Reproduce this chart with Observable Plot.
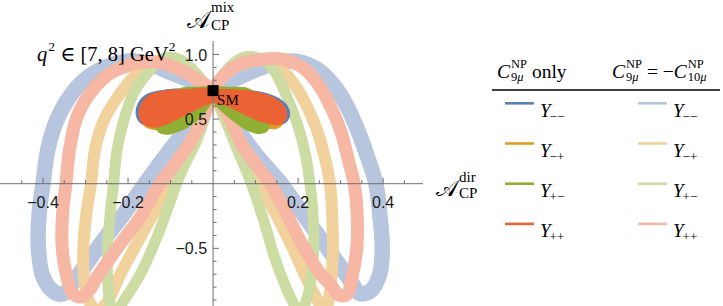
<!DOCTYPE html>
<html>
<head>
<meta charset="utf-8">
<script src="https://cdn.jsdelivr.net/npm/d3@7"></script>
<script src="https://cdn.jsdelivr.net/npm/@observablehq/plot@0.6"></script>
<style>
html,body{margin:0;padding:0;background:#fff;}
#wrap{position:relative;width:723px;height:306px;overflow:hidden;background:#fff;}
#chart{position:absolute;left:0;top:0;}
#overlay{position:absolute;left:0;top:0;pointer-events:none;font-family:"Liberation Serif","Times New Roman",Tinos,"DejaVu Serif",serif;}
#overlay text{white-space:pre;}
</style>
</head>
<body>
<div id="wrap"><div id="chart"></div><svg id="overlay" width="723" height="306"></svg></div>
<script>
// ---------- data ----------
const smPoint = [[0, 0.72]];
const seriesSubscripts = ["−−", "−+", "+−", "++"];
const xTickLabels = [-0.4, -0.2, 0.2, 0.4];
const yTickLabels = [-0.5, 0.5, 1.0];
const xMinorTicks = [-0.45, -0.35, -0.3, -0.25, -0.15, -0.1, -0.05, 0.05, 0.1, 0.15, 0.25, 0.3, 0.35, 0.45];
const yMinorTicks = [-0.9, -0.8, -0.7, -0.6, -0.4, -0.3, -0.2, -0.1, 0.1, 0.2, 0.3, 0.4, 0.6, 0.7, 0.8, 0.9];

// C9 = -C10 (light bands), each lobe runs from SM round the loop back to SM
const lightBlueLeft = [[0,0.72],[-0.04,0.78],[-0.1,0.86],[-0.15,0.925],[-0.195,0.95],[-0.25,0.905],[-0.304,0.8],[-0.343,0.646],[-0.371,0.465],[-0.389,0.258],[-0.4,0],[-0.409,-0.233],[-0.411,-0.49],[-0.4,-0.72],[-0.375,-0.835],[-0.35,-0.85],[-0.328,-0.76],[-0.27,-0.49],[-0.21,-0.233],[-0.16,0],[-0.108,0.233],[-0.065,0.413],[-0.032,0.55],[0,0.72]];
const lightBlueRight = [[0,0.72],[0.04,0.79],[0.1,0.88],[0.15,0.935],[0.2,0.945],[0.245,0.885],[0.284,0.76],[0.315,0.6],[0.342,0.4],[0.365,0.19],[0.383,0],[0.392,-0.23],[0.398,-0.49],[0.392,-0.7],[0.37,-0.83],[0.345,-0.85],[0.325,-0.76],[0.28,-0.55],[0.23,-0.32],[0.16,0],[0.1,0.23],[0.056,0.43],[0.025,0.59],[0,0.72]];
const lightOrangeLeft = [[0,0.72],[-0.03,0.8],[-0.07,0.885],[-0.11,0.93],[-0.145,0.925],[-0.179,0.853],[-0.218,0.7],[-0.257,0.49],[-0.278,0.258],[-0.287,0],[-0.298,-0.233],[-0.305,-0.49],[-0.303,-0.75],[-0.29,-0.92],[-0.272,-0.985],[-0.25,-0.92],[-0.218,-0.7],[-0.171,-0.414],[-0.132,-0.18],[-0.108,0],[-0.085,0.103],[-0.046,0.31],[-0.02,0.53],[0,0.72]];
const lightOrangeRight = [[0,0.72],[0.02,0.82],[0.05,0.9],[0.09,0.945],[0.12,0.955],[0.155,0.9],[0.195,0.75],[0.222,0.59],[0.245,0.41],[0.263,0.2],[0.275,0],[0.28,-0.23],[0.282,-0.49],[0.278,-0.75],[0.27,-0.93],[0.26,-1.0],[0.25,-0.93],[0.222,-0.75],[0.186,-0.49],[0.147,-0.23],[0.108,0],[0.064,0.26],[0.033,0.47],[0,0.72]];
const lightGreenLeft = [[0,0.72],[-0.025,0.8],[-0.05,0.89],[-0.075,0.955],[-0.1,0.98],[-0.124,0.956],[-0.155,0.853],[-0.187,0.7],[-0.21,0.49],[-0.226,0.258],[-0.234,0],[-0.242,-0.233],[-0.248,-0.49],[-0.248,-0.75],[-0.242,-0.93],[-0.23,-1.0],[-0.215,-0.93],[-0.171,-0.7],[-0.132,-0.414],[-0.1,-0.13],[-0.086,0],[-0.069,0.129],[-0.038,0.336],[-0.015,0.56],[0,0.72]];
const lightGreenRight = [[0,0.72],[0.025,0.85],[0.055,0.95],[0.088,0.985],[0.12,0.95],[0.143,0.878],[0.174,0.67],[0.198,0.465],[0.217,0.233],[0.228,0],[0.235,-0.233],[0.237,-0.49],[0.23,-0.75],[0.218,-0.92],[0.205,-1.0],[0.19,-0.93],[0.15,-0.62],[0.119,-0.284],[0.09,0],[0.048,0.336],[0.017,0.594],[0,0.72]];
const lightRedLeft = [[0,0.72],[-0.03,0.79],[-0.077,0.88],[-0.12,0.935],[-0.148,0.945],[-0.19,0.925],[-0.242,0.853],[-0.289,0.7],[-0.32,0.516],[-0.338,0.258],[-0.346,0],[-0.354,-0.233],[-0.355,-0.49],[-0.344,-0.72],[-0.33,-0.85],[-0.31,-0.875],[-0.29,-0.82],[-0.273,-0.724],[-0.218,-0.465],[-0.171,-0.258],[-0.125,0],[-0.095,0.13],[-0.061,0.284],[-0.03,0.465],[0,0.72]];
const lightRedRight = [[0,0.72],[0.02,0.82],[0.06,0.92],[0.11,0.96],[0.165,0.962],[0.21,0.9],[0.245,0.78],[0.276,0.6],[0.3,0.41],[0.32,0.16],[0.332,0],[0.339,-0.24],[0.338,-0.5],[0.327,-0.72],[0.314,-0.86],[0.295,-0.86],[0.276,-0.78],[0.253,-0.7],[0.213,-0.49],[0.174,-0.24],[0.135,0],[0.1,0.15],[0.07,0.29],[0.035,0.53],[0,0.72]];

// C9 only (dark petals), closed outlines
const darkBlueLeft = [[0,0.725],[-0.06,0.73],[-0.11,0.722],[-0.153,0.69],[-0.174,0.625],[-0.18,0.55],[-0.172,0.48],[-0.155,0.45],[-0.124,0.45],[-0.09,0.49],[-0.05,0.555],[-0.02,0.61],[0,0.64]];
const darkBlueRight = [[0,0.725],[0.02,0.727],[0.09,0.716],[0.148,0.665],[0.173,0.6],[0.179,0.535],[0.17,0.478],[0.15,0.458],[0.119,0.478],[0.072,0.543],[0.033,0.607],[0,0.64]];
const darkOrangeLeft = [[0,0.72],[-0.06,0.72],[-0.11,0.705],[-0.15,0.66],[-0.168,0.58],[-0.168,0.5],[-0.158,0.445],[-0.14,0.425],[-0.115,0.43],[-0.08,0.47],[-0.04,0.54],[-0.015,0.6],[0,0.64]];
const darkOrangeRight = [[0,0.72],[0.06,0.715],[0.12,0.68],[0.155,0.62],[0.168,0.54],[0.163,0.465],[0.15,0.432],[0.128,0.432],[0.1,0.46],[0.06,0.52],[0.025,0.59],[0,0.64]];
const darkGreenLeft = [[0,0.735],[-0.04,0.742],[-0.075,0.735],[-0.105,0.68],[-0.125,0.58],[-0.135,0.47],[-0.128,0.405],[-0.108,0.386],[-0.085,0.405],[-0.061,0.44],[-0.03,0.516],[-0.01,0.6],[0,0.65]];
const darkGreenRight = [[0,0.735],[0.04,0.742],[0.08,0.735],[0.105,0.68],[0.122,0.58],[0.131,0.47],[0.126,0.41],[0.111,0.392],[0.09,0.405],[0.072,0.434],[0.033,0.53],[0.01,0.6],[0,0.65]];
const darkRedLeft = [[0,0.725],[-0.06,0.725],[-0.108,0.717],[-0.148,0.684],[-0.167,0.62],[-0.173,0.543],[-0.167,0.478],[-0.152,0.447],[-0.124,0.447],[-0.093,0.49],[-0.053,0.555],[-0.022,0.607],[0,0.64]];
const darkRedRight = [[0,0.725],[0.017,0.725],[0.088,0.712],[0.143,0.66],[0.166,0.594],[0.172,0.53],[0.166,0.478],[0.15,0.46],[0.119,0.478],[0.072,0.543],[0.033,0.607],[0,0.64]];

// ---------- styles ----------
const darkColors = {blue: "#5e81b5", orange: "#e19c24", green: "#8fb032", red: "#eb6235"};
const lightColors = {blue: "#b7c6de", orange: "#f1d29d", green: "#ccdca3", red: "#f6b8a4"};
const axisColor = "#6f6f6f";
const serifFont = "Liberation Serif, Times New Roman, Tinos, DejaVu Serif, serif";
const sansFont = "Liberation Sans, Arial, Helvetica, Arimo, sans-serif";
const fmt = d => (d < 0 ? "−" : "") + Math.abs(d).toFixed(1);

const lightSets = [
  {key: "blue", lobes: [lightBlueLeft, lightBlueRight], w: 15.5},
  {key: "orange", lobes: [lightOrangeLeft, lightOrangeRight], w: 12},
  {key: "green", lobes: [lightGreenLeft, lightGreenRight], w: 11},
  {key: "red", lobes: [lightRedLeft, lightRedRight], w: 13}
];
const darkSets = [
  {key: "blue", lobes: [darkBlueLeft, darkBlueRight]},
  {key: "orange", lobes: [darkOrangeLeft, darkOrangeRight]},
  {key: "green", lobes: [darkGreenLeft, darkGreenRight]},
  {key: "red", lobes: [darkRedLeft, darkRedRight]}
];

const tickUp = len => ({draw(ctx) { ctx.moveTo(0, 0); ctx.lineTo(0, -len); }});
const tickRight = len => ({draw(ctx) { ctx.moveTo(0, 0); ctx.lineTo(len, 0); }});

const marks = [];
for (const s of lightSets) for (const l of s.lobes)
  marks.push(Plot.line(l, {x: d => d[0], y: d => d[1], stroke: lightColors[s.key], strokeWidth: s.w,
    curve: "catmull-rom", strokeLinecap: "round", strokeLinejoin: "round", clip: true}));
for (const s of darkSets) for (const l of s.lobes)
  marks.push(Plot.line(l, {x: d => d[0], y: d => d[1], fill: darkColors[s.key], stroke: darkColors[s.key],
    strokeWidth: 2, curve: "catmull-rom-closed", strokeLinejoin: "round"}));
marks.push(
  Plot.ruleY([0], {stroke: axisColor, strokeWidth: 1}),
  Plot.ruleX([0], {stroke: axisColor, strokeWidth: 1}),
  Plot.dot(xMinorTicks, {x: d => d, y: 0, symbol: tickUp(3.5), stroke: axisColor, fill: "none", strokeWidth: 1}),
  Plot.dot(xTickLabels, {x: d => d, y: 0, symbol: tickUp(6), stroke: axisColor, fill: "none", strokeWidth: 1}),
  Plot.dot(yMinorTicks, {x: 0, y: d => d, symbol: tickRight(3.5), stroke: axisColor, fill: "none", strokeWidth: 1}),
  Plot.dot(yTickLabels, {x: 0, y: d => d, symbol: tickRight(6), stroke: axisColor, fill: "none", strokeWidth: 1}),
  Plot.text(xTickLabels, {x: d => d, y: 0, text: fmt, dy: 19, fontSize: 16, fontFamily: sansFont, fill: "#1a1a1a"}),
  Plot.text(yTickLabels, {x: 0, y: d => d, text: fmt, dx: -6, dy: 1, textAnchor: "end", fontSize: 16, fontFamily: sansFont, fill: "#1a1a1a"}),
  Plot.dot(smPoint, {x: d => d[0], y: d => d[1], symbol: "square", r: 6.2, fill: "#000", stroke: "none"}),
  Plot.text(smPoint, {x: d => d[0], y: d => d[1], text: () => "SM", dx: 4, dy: 9.5, textAnchor: "start", fontSize: 15, fontFamily: serifFont, fill: "#000"})
);

const chart = Plot.plot({
  width: 480, height: 306,
  marginLeft: 0, marginRight: 57, marginTop: 41, marginBottom: 0,
  x: {domain: [-0.5, 0.495], axis: null},
  y: {domain: [-0.95, 1.1], axis: null},
  style: {background: "transparent", overflow: "visible"},
  marks
});
document.getElementById("chart").appendChild(chart);

// ---------- overlay text: axis titles, annotation, legend ----------
// each expression is ONE <text>; pieces are tspans placed side by side (sup/sub stacked)
const ov = d3.select("#overlay");
function mathText(x, y, items) {
  const t = ov.append("text").attr("fill", "#000");
  let cx = x;
  const piece = (px, py, size, parts) => {
    let w = 0;
    parts.forEach(([s, it]) => {
      const ts = t.append("tspan").attr("x", px + w).attr("y", py).attr("font-size", size)
        .attr("font-style", it ? "italic" : "normal").text(s);
      w += ts.node().getComputedTextLength();
    });
    return w;
  };
  for (const it of items) {
    if (it.sup) {
      const w1 = piece(cx, y + it.supDy, it.size, it.sup);
      const w2 = piece(cx, y + it.subDy, it.size, it.sub);
      cx += Math.max(w1, w2) + (it.gap || 0);
    } else {
      cx += piece(cx, y + (it.dy || 0), it.size, it.parts) + (it.gap || 0);
    }
  }
  return cx;
}
// y-axis title
mathText(187, 28.3, [{size: 24, parts: [["𝒜"]], gap: 1}, {size: 15, sup: [["mix"]], sub: [["CP"]], supDy: -16.5, subDy: 1.5}]);
// x-axis title
mathText(436, 196, [{size: 23, parts: [["𝒜"]], gap: 1}, {size: 15, sup: [["dir"]], sub: [["CP"]], supDy: -14.5, subDy: 2}]);
// q^2 annotation
mathText(37, 60.7, [{size: 20.5, parts: [["q", true]], gap: 1}, {size: 13.5, parts: [["2"]], dy: -9.5}, {size: 20.5, parts: [[" ∈ [7, 8] GeV"]]}, {size: 13.5, parts: [["2"]], dy: -9.5}]);

// legend headers
const C = {size: 19.5, parts: [["C", true]], gap: 1};
mathText(497, 78.3, [C, {size: 12.5, sup: [["NP"]], sub: [["9"], ["μ", true]], supDy: -10, subDy: 2.5}, {size: 19.5, parts: [[" only"]]}]);
mathText(612, 78.3, [C, {size: 12.5, sup: [["NP"]], sub: [["9"], ["μ", true]], supDy: -10, subDy: 2.5}, {size: 19.5, parts: [[" = −"]]},
  C, {size: 12.5, sup: [["NP"]], sub: [["10"], ["μ", true]], supDy: -10, subDy: 2.5}]);
ov.append("line").attr("x1", 492).attr("x2", 720).attr("y1", 90).attr("y2", 90).attr("stroke", "#000").attr("stroke-width", 1.3);

const keys = ["blue", "orange", "green", "red"];
keys.forEach((k, i) => {
  const y0 = 103.3 + 40.2 * i;
  ov.append("line").attr("x1", 505).attr("x2", 534).attr("y1", y0).attr("y2", y0).attr("stroke", darkColors[k]).attr("stroke-width", 2.6);
  ov.append("line").attr("x1", 638).attr("x2", 667).attr("y1", y0).attr("y2", y0).attr("stroke", lightColors[k]).attr("stroke-width", 2.6);
  mathText(540, y0 + 13.4, [{size: 19, parts: [["Y", true]], gap: -1}, {size: 13, parts: [[seriesSubscripts[i]]], dy: 4}]);
  mathText(673, y0 + 13.4, [{size: 19, parts: [["Y", true]], gap: -1}, {size: 13, parts: [[seriesSubscripts[i]]], dy: 4}]);
});
</script>
</body>
</html>
